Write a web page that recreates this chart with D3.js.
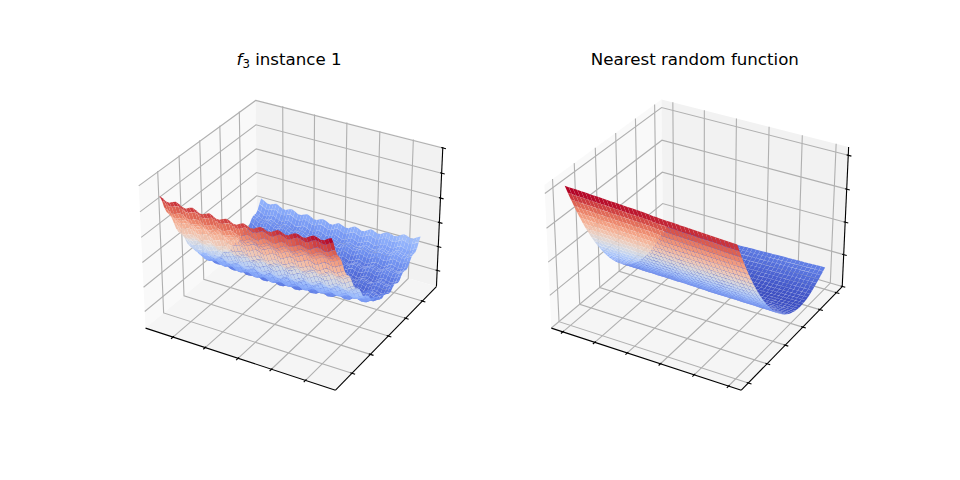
<!DOCTYPE html>
<html>
<head>
<meta charset="utf-8">
<style>
  html, body { margin: 0; padding: 0; background: #fff; }
  text { font-family: "DejaVu Sans", sans-serif; }
</style>
<script src="https://cdn.jsdelivr.net/npm/d3@7"></script>
</head>
<body>
<script>
// left chart, z = leftAcross[y] + leftAlong[x]
const leftAcross = [94.6, 89.9, 83.0, 78.1, 75.1, 71.6, 66.1, 60.0, 55.9, 53.8, 51.1, 46.4, 41.2, 37.9, 36.6, 34.7, 30.8,
  26.4, 23.9, 23.4, 22.4, 19.3, 15.7, 14.1, 14.4, 14.2, 12.0, 9.2, 8.4, 9.5, 10.1, 8.7, 6.7, 6.7, 8.7, 10.1, 9.5, 8.4, 8.9,
  11.4, 13.2, 13.0, 12.3, 13.5, 16.7, 19.4, 20.0, 19.9, 21.9, 25.8, 29.2];
const leftAlong = [-4.1, -5.3, -7.0, -7.2, -5.9, -5.0, -6.3, -7.8, -8.2, -6.7, -5.9, -7.1, -8.8, -8.7, -7.5, -6.5, -7.7,
  -9.2, -9.1, -7.8, -6.9, -7.8, -9.3, -9.3, -7.7, -6.5, -7.5, -8.7, -8.5, -6.8, -5.6, -6.3, -7.6, -7.2, -5.5, -4.1, -4.9,
  -6.2, -5.7, -3.9, -2.7, -3.2, -4.4, -3.9, -2.0, -0.6, -1.2, -2.3, -1.9, 0.0, 1.4];
const leftXTicks = [-4, -2, 0, 2, 4];
const leftYTicks = [-4, -2, 0, 2, 4];
const leftZTicks = [0, 20, 40, 60, 80, 100];
const leftZLim = [-11.5, 98.5];

// right chart, z = rightAcross[y] + rightAlong[x] + rightTwist[x] * rightSkew[y]
const rightAcross = [80.4, 75.2, 70.3, 65.5, 60.9, 56.5, 52.2, 48.1, 44.3, 40.5, 37.0, 33.7, 30.5, 27.5, 24.7, 22.1, 19.6,
  17.3, 15.2, 13.3, 11.6, 10.0, 8.6, 7.4, 6.4, 5.6, 4.9, 4.4, 4.1, 4.0, 4.1, 4.3, 4.7, 5.3, 6.1, 7.0, 7.9, 8.9, 10.0, 11.0,
  12.1];
const rightAlong = [0.6, 0.5, 0.5, 0.5, 0.5, 0.5, 0.4, 0.4, 0.4, 0.4, 0.3, 0.3, 0.3, 0.3, 0.2, 0.2, 0.2, 0.2, 0.1, 0.1, 0,
  -0.1, -0.1, -0.2, -0.2, -0.2, -0.2, -0.3, -0.3, -0.3, -0.3, -0.4, -0.4, -0.4, -0.4, -0.5, -0.5, -0.5, -0.5, -0.5, -0.6];
const rightTwist = [-2.1, -2.0, -1.9, -1.8, -1.7, -1.6, -1.5, -1.4, -1.3, -1.2, -1.1, -1.0, -0.9, -0.8, -0.7, -0.6, -0.5,
  -0.4, -0.3, -0.2, 0, 0.2, 0.3, 0.4, 0.5, 0.6, 0.7, 0.8, 0.9, 1.0, 1.1, 1.2, 1.3, 1.4, 1.5, 1.6, 1.7, 1.8, 1.9, 2.0, 2.1];
const rightSkew = [-1, -0.95, -0.9, -0.85, -0.8, -0.75, -0.7, -0.65, -0.6, -0.55, -0.5, -0.45, -0.4, -0.35, -0.3, -0.25,
  -0.2, -0.15, -0.1, -0.05, 0, 0.05, 0.1, 0.15, 0.2, 0.25, 0.3, 0.35, 0.4, 0.45, 0.5, 0.55, 0.6, 0.65, 0.7, 0.75, 0.8, 0.85,
  0.9, 0.95, 1];
const rightXTicks = [-5, -3, -1, 1, 3, 5];
const rightYTicks = [-5, -3, -1, 1, 3, 5];
const rightZTicks = [0, 20, 40, 60, 80];
const rightZLim = [1.6, 83.2];

const xyLim = [-5.5, 5.5];
const xyExtent = [-5, 5];

// matplotlib coolwarm
const coolwarm = d3.interpolateRgbBasis(["#3b4cc0", "#6282ea", "#8db0fe", "#b7cff9", "#dddddd", "#f5c4ac", "#f59d7e", "#e0654f", "#b40426"]);

const svg = d3.select("body").append("svg")
  .attr("width", 960)
  .attr("height", 480)
  .style("display", "block");

// camera, same numbers mplot3d uses by default
const elev = 30 * Math.PI / 180, azim = -60 * Math.PI / 180, dist = 10;
const boxScale = 1.8294640721620434 / Math.hypot(4, 4, 3);
const box = [4 * boxScale, 4 * boxScale, 3 * boxScale];
const mid = box.map(b => b / 2);
const w = [Math.cos(elev) * Math.cos(azim), Math.cos(elev) * Math.sin(azim), Math.sin(elev)];
const eye = mid.map((m, i) => m + dist * w[i]);
const uLen = Math.hypot(w[1], w[0]);
const u = [-w[1] / uLen, w[0] / uLen, 0];
const v = [w[1] * u[2] - w[2] * u[1], w[2] * u[0] - w[0] * u[2], w[0] * u[1] - w[1] * u[0]];
const dot = (a, b) => a[0] * b[0] + a[1] * b[1] + a[2] * b[2];

// faces are drawn a little short of their corners so the seams between them show
const faceShrink = 0.98;

function drawPanel(o) {
  const size = 338.2;
  const sx = d3.scaleLinear().domain([-0.95 / dist, 0.9 / dist]).range([o.left, o.left + size]);
  const sy = d3.scaleLinear().domain([-0.95 / dist, 0.9 / dist]).range([242.4 + size / 2, 242.4 - size / 2]);
  const xs = d3.scaleLinear().domain(xyLim).range([0, box[0]]);
  const ys = d3.scaleLinear().domain(xyLim).range([0, box[1]]);
  const zs = d3.scaleLinear().domain(o.zLim).range([0, box[2]]);

  function project(x, y, z) {
    const p = [xs(x) - eye[0], ys(y) - eye[1], zs(z) - eye[2]];
    const depth = dot(w, p);
    return { x: sx(dot(u, p) / -depth), y: sy(dot(v, p) / -depth), d: depth };
  }
  const line = pts => "M" + pts.map(p => { const q = project(p[0], p[1], p[2]); return q.x + "," + q.y; }).join("L");

  const pad = (xyLim[1] - xyLim[0]) / 48;
  const zPad = (o.zLim[1] - o.zLim[0]) / 48;
  const x0 = xyLim[0] - pad, x1 = xyLim[1] + pad;
  const y0 = x0, y1 = x1;
  const z0 = o.zLim[0] - zPad, z1 = o.zLim[1] + zPad;
  const g = svg.append("g");

  // panes
  const panes = [
    { fill: "#f9f9f9", pts: [[x0, y0, z0], [x0, y1, z0], [x0, y1, z1], [x0, y0, z1]] },
    { fill: "#f2f2f2", pts: [[x0, y1, z0], [x1, y1, z0], [x1, y1, z1], [x0, y1, z1]] },
    { fill: "#f5f5f5", pts: [[x0, y0, z0], [x1, y0, z0], [x1, y1, z0], [x0, y1, z0]] }
  ];
  g.selectAll(".pane").data(panes).enter().append("path")
    .attr("class", "pane")
    .attr("d", d => line(d.pts) + "Z")
    .attr("fill", d => d.fill);

  // grid
  const grid = [];
  o.xTicks.forEach(t => grid.push([[t, y0, z0], [t, y1, z0], [t, y1, z1]]));
  o.yTicks.forEach(t => grid.push([[x1, t, z0], [x0, t, z0], [x0, t, z1]]));
  o.zTicks.forEach(t => grid.push([[x0, y0, t], [x0, y1, t], [x1, y1, t]]));
  g.selectAll(".grid").data(grid).enter().append("path")
    .attr("class", "grid")
    .attr("d", line)
    .attr("fill", "none")
    .attr("stroke", "#b0b0b0")
    .attr("stroke-width", 1.11);

  // axis lines and tick marks
  const dIn = 0.1 * (xyLim[1] - xyLim[0]) / 12, dOut = 0.2 * (xyLim[1] - xyLim[0]) / 12;
  const axes = [
    [[x0, y0, z0], [x1, y0, z0]],
    [[x1, y0, z0], [x1, y1, z0]],
    [[x1, y1, z0], [x1, y1, z1]]
  ];
  o.xTicks.forEach(t => axes.push([[t, y0 + dIn, z0], [t, y0 - dOut, z0]]));
  o.yTicks.forEach(t => axes.push([[x1 - dIn, t, z0], [x1 + dOut, t, z0]]));
  o.zTicks.forEach(t => axes.push([[x1 - dIn, y1, t], [x1 + dOut, y1, t]]));
  g.selectAll(".axis").data(axes).enter().append("path")
    .attr("class", "axis")
    .attr("d", line)
    .attr("fill", "none")
    .attr("stroke", "#000")
    .attr("stroke-width", 1.11);

  // surface
  const xGrid = d3.scaleLinear().domain([0, o.along.length - 1]).range(xyExtent);
  const yGrid = d3.scaleLinear().domain([0, o.across.length - 1]).range(xyExtent);
  const zAt = (i, j) => o.along[i] + o.across[j] + (o.twist ? o.twist[i] * o.skew[j] : 0);
  const faces = [];
  for (let i = 0; i < o.along.length - 1; i++) {
    for (let j = 0; j < o.across.length - 1; j++) {
      const cells = [[i, j], [i + 1, j], [i + 1, j + 1], [i, j + 1]];
      const corners = cells.map(c => project(xGrid(c[0]), yGrid(c[1]), zAt(c[0], c[1])));
      const cx = d3.mean(corners, c => c.x), cy = d3.mean(corners, c => c.y);
      faces.push({
        corners: corners.map(c => [cx + (c.x - cx) * faceShrink, cy + (c.y - cy) * faceShrink]),
        depth: d3.mean(corners, c => c.d),
        z: d3.mean(cells, c => zAt(c[0], c[1]))
      });
    }
  }
  faces.sort((a, b) => a.depth - b.depth);
  const color = d3.scaleSequential(coolwarm).domain(d3.extent(faces, f => f.z));
  g.selectAll(".face").data(faces).enter().append("path")
    .attr("class", "face")
    .attr("d", f => "M" + f.corners.join("L") + "Z")
    .attr("fill", f => color(f.z));

  return o.left + size / 2;
}

const leftMid = drawPanel({
  left: 120, along: leftAlong, across: leftAcross,
  xTicks: leftXTicks, yTicks: leftYTicks, zTicks: leftZTicks, zLim: leftZLim
});
const rightMid = drawPanel({
  left: 525.8, along: rightAlong, across: rightAcross, twist: rightTwist, skew: rightSkew,
  xTicks: rightXTicks, yTicks: rightYTicks, zTicks: rightZTicks, zLim: rightZLim
});

// titles
const t1 = svg.append("text")
  .attr("x", leftMid)
  .attr("y", 65)
  .attr("text-anchor", "middle")
  .attr("font-size", 16.67);
t1.append("tspan").attr("font-style", "italic").text("f");
t1.append("tspan").attr("font-size", 11.7).attr("dy", 2.5).text("3");
t1.append("tspan").attr("dy", -2.5).text(" instance 1");

svg.append("text")
  .attr("x", rightMid)
  .attr("y", 65)
  .attr("text-anchor", "middle")
  .attr("font-size", 16.67)
  .text("Nearest random function");
</script>
</body>
</html>
